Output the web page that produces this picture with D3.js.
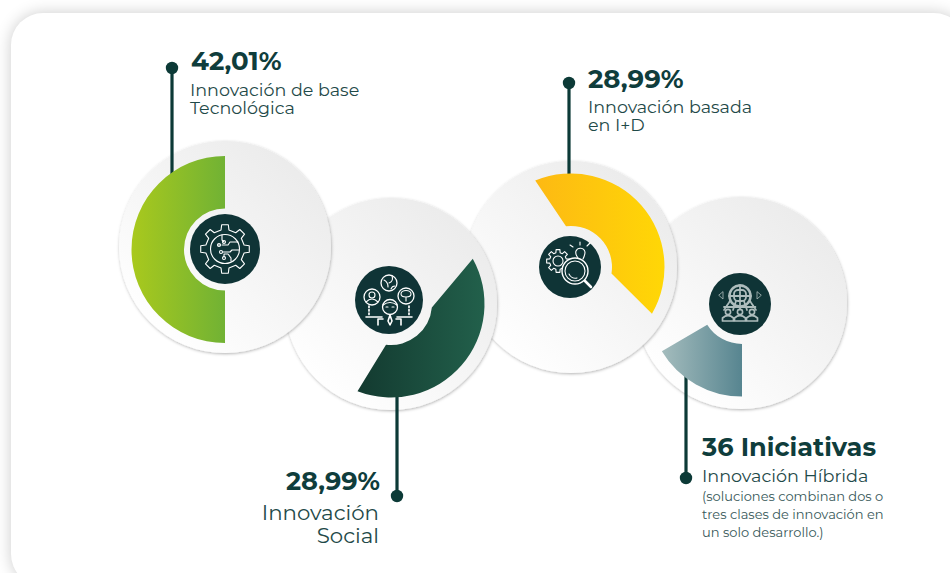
<!DOCTYPE html>
<html><head><meta charset="utf-8">
<script src="https://cdn.jsdelivr.net/npm/d3@7/dist/d3.min.js"></script>
<style>html,body{margin:0;padding:0;background:#f4f4f4;overflow:hidden}svg{display:block}text{font-family:"Montserrat","Lato","Open Sans",sans-serif}</style>
</head><body><svg id="c" width="950" height="573"></svg>
<script>
const categories=["Innovación de base Tecnológica","Innovación Social","Innovación basada en I+D","Innovación Híbrida"];
const seriesValues=[42.01,28.99,28.99,36];
const valueLabels=["42,01%","28,99%","28,99%","36 Iniciativas"];
const outerStartDeg=[180,61,-22.5,180];
const outerEndDeg=[360,201,120,239];
const innerStartDeg=[180,95,-7,180];
const innerEndDeg=[360,187,99,238];
const colorStops=[["#a9c91d","#71b234"],["#133a30","#22604b"],["#fdb913","#ffd706"],["#a4bcbd","#578590"]];

const cfg=[
 {cx:741,cy:303,ax:742,ay:303,ix:740,iy:304,ir:31,lx:686,ly0:370,ly1:478,idx:3},
 {cx:571,cy:267,ix:570,iy:267,ir:31,lx:569,ly0:83,ly1:180,idx:2},
 {cx:391,cy:304,ix:389,iy:300,ir:34,lx:397,ly0:390,ly1:496,idx:1},
 {cx:225,cy:247,ax:225,ay:249.5,ix:225,iy:249,ir:35,lx:172,ly0:68,ly1:175,idx:0}
];
const R=106,ro=93.5,ri=41,dark="#0f3436";
const svg=d3.select("#c");
const defs=svg.append("defs");
const f=defs.append("filter").attr("id","sh").attr("x","-20%").attr("y","-20%").attr("width","140%").attr("height","140%");
f.append("feDropShadow").attr("dx",0.5).attr("dy",1).attr("stdDeviation",1.6).attr("flood-color","#000").attr("flood-opacity",0.3);
const pf=defs.append("filter").attr("id","psh").attr("x","-5%").attr("y","-5%").attr("width","110%").attr("height","110%");
pf.append("feGaussianBlur").attr("stdDeviation",8);
const g0=defs.append("linearGradient").attr("id","disc").attr("x1",0.85).attr("y1",0.1).attr("x2",0.15).attr("y2",0.9);
g0.append("stop").attr("offset",0).attr("stop-color","#ebebeb");
g0.append("stop").attr("offset",1).attr("stop-color","#ffffff");
colorStops.forEach((c,i)=>{const g=defs.append("linearGradient").attr("id","g"+i);
 g.append("stop").attr("offset",0).attr("stop-color",c[0]);
 g.append("stop").attr("offset",1).attr("stop-color",c[1]);});

svg.append("rect").attr("x",0).attr("y",0).attr("width",950).attr("height",573).attr("fill","#fff");
svg.append("rect").attr("x",11).attr("y",13).attr("width",955).attr("height",573).attr("rx",32).attr("fill","#000").attr("opacity",0.2).attr("filter","url(#psh)");
svg.append("rect").attr("x",11).attr("y",13).attr("width",955).attr("height",573).attr("rx",32).attr("fill","#fff");

const rad=d=>(d-90)*Math.PI/180;
function sector(i){
 const p=d3.path();
 p.arc(0,0,ro,rad(outerStartDeg[i]),rad(outerEndDeg[i]),false);
 p.arc(0,0,ri,rad(innerEndDeg[i]),rad(innerStartDeg[i]),true);
 p.closePath();
 return p.toString();
}
function gearPts(cx,cy,n,r0,r1,w){
 const pts=[];
 for(let k=0;k<n;k++){const a=k/n*2*Math.PI;
  [[-w*1.2,r0],[-w*0.8,r1],[w*0.8,r1],[w*1.2,r0]].forEach(q=>pts.push([cx+q[1]*Math.sin(a+q[0]),cy-q[1]*Math.cos(a+q[0])]));}
 return d3.line().curve(d3.curveLinearClosed)(pts);
}
function icon(g,i){
 const s=g.append("g").attr("fill","none").attr("stroke","#fff").attr("stroke-width",1.1).attr("stroke-linecap","round").attr("stroke-linejoin","round");
 if(i===0){
  s.append("path").attr("d",gearPts(0,0,8,19.5,24.5,0.17));
  s.append("circle").attr("r",14.5);
  s.append("path").attr("d","M-3-4H3L5-7H13M-2 3H5L7 1H14M-1 8V5H3L6 9V12M-7-4H-5M-3-14V-9L-1-7");
  [[-6,-4],[-4,3],[-1,9],[-1,-7]].forEach(q=>s.append("circle").attr("cx",q[0]).attr("cy",q[1]).attr("r",1.5));
 }else if(i===1){
  [[-17,-3],[0,-17],[17,-4]].forEach(c=>s.append("circle").attr("cx",c[0]).attr("cy",c[1]).attr("r",8).attr("stroke-width",1.3));
  s.append("circle").attr("cx",1).attr("cy",7).attr("r",7.5).attr("stroke-width",1.3);
  s.append("path").attr("d","M-6 5Q1 0 8 5M-3 7H-1M3 7H5");
  s.append("circle").attr("cx",-17).attr("cy",-5).attr("r",3);
  s.append("path").attr("d","M-23 2Q-17-4-11 2");
  s.append("path").attr("d","M-5-20Q-1-18-1-13M3-24Q5-19 0-17M6-14Q3-14 2-11");
  s.append("path").attr("d","M12-6A5 3.5 0 0 1 22-6Q22-3 17-3Q12-3 12-6M17-3V1");
  s.append("path").attr("stroke-dasharray","1.5 2").attr("stroke-width",1.7).attr("d","M-20 6V15M20 6V15");
  s.append("path").attr("stroke-width",1.6).attr("d","M-23 17H-7M8 17H23M-11 19V25M-11 19H-6M12 19V25M12 19H7M1 15L-1 21L1 25L3 21Z");
 }else if(i===2){
  s.append("path").attr("d",gearPts(-12,-6,8,8.5,11.5,0.21));
  s.append("circle").attr("cx",-12).attr("cy",-6).attr("r",5);
  s.append("circle").attr("cx",5).attr("cy",4).attr("r",13).attr("fill",dark).attr("stroke-width",1.4);
  s.append("circle").attr("cx",5).attr("cy",4).attr("r",10);
  s.append("path").attr("d","M-1 7A7 7 0 0 0 7 11");
  s.append("path").attr("stroke-width",2.6).attr("d","M15 14L21 20");
  s.append("path").attr("d","M8-9Q5-13 6-16A4.8 4.8 0 0 1 15-15Q15-12 13-8M0-22L3-20M10-25V-22M20-24L17-21");
 }else{
  s.attr("stroke","#aebdbd").attr("stroke-width",1.6);
  s.append("circle").attr("cy",-8).attr("r",10.5).attr("stroke-dasharray","2.2 .8").attr("stroke-width",2.6);
  s.append("rect").attr("x",-6).attr("y",-14).attr("width",12).attr("height",11).attr("rx",4).attr("stroke-width",1.8);
  s.append("path").attr("stroke-dasharray","1.5 .8").attr("stroke-width",1.8).attr("d","M-10-3L-16 6M10-3L16 6M-4-3L-7 6M4-3L7 6M0-3V6M-11-8H11M0-19V-3M-16 3H16");
  [-12,0,12].forEach(x=>{
   s.append("circle").attr("cx",x).attr("cy",8).attr("r",2.6);
   s.append("path").attr("stroke-width",1.7).attr("d",`M${x-5.5} 17V14Q${x} 9 ${x+5.5} 14V17Z`);});
  s.append("path").attr("stroke-width",.8).attr("d","M-17-12L-17-5L-21-8.5ZM17-12L17-5L21-8.5Z");
 }
}
cfg.forEach(c=>{
 const g=svg.append("g");
 g.append("circle").attr("cx",c.cx).attr("cy",c.cy).attr("r",R).attr("fill","url(#disc)").attr("filter","url(#sh)");
 g.append("line").attr("x1",c.lx).attr("x2",c.lx).attr("y1",c.ly0).attr("y2",c.ly1).attr("stroke","#0c3a37").attr("stroke-width",3.2);
 g.append("circle").attr("cx",c.lx).attr("cy",c.idx===0?68:c.idx===2?83:c.ly1).attr("r",6.2).attr("fill","#0c3a37");
 g.append("path").attr("transform",`translate(${c.ax||c.cx},${c.ay||c.cy})`).attr("d",sector(c.idx)).attr("fill",`url(#g${c.idx})`);
 const ic=g.append("g").attr("transform",`translate(${c.ix},${c.iy})`);
 ic.append("circle").attr("r",c.ir).attr("fill",dark);
 icon(ic,c.idx);
});
const tc="#0f3d3c",sub="#1f4a49",small="#38595a";
function T(x,y,lines,size,w,anchor,col,lh){
 const t=svg.append("text").attr("x",x).attr("y",y).attr("font-size",size).attr("font-weight",w).attr("text-anchor",anchor||"start").attr("fill",col||tc);
 lines.forEach((s,i)=>t.append("tspan").attr("x",x).attr("dy",i?lh:0).text(s));
}
T(191,70,[valueLabels[0]],26,700);
T(190,96,["Innovación de base","Tecnológica"],17.5,400,"start",sub,18);
T(588,88,[valueLabels[2]],26,700);
T(588,113,["Innovación basada","en I+D"],17.5,400,"start",sub,18);
T(380,490,[valueLabels[1]],25.6,700,"end");
T(379,520,["Innovación","Social"],21.3,400,"end",sub,23);
T(702,456,[valueLabels[3]],25.6,700);
T(702,482,[categories[3]],17.6,400,"start",sub);
T(702,501,["(soluciones combinan dos o","tres clases de innovación en","un solo desarrollo.)"],13,400,"start",small,18);
</script></body></html>
